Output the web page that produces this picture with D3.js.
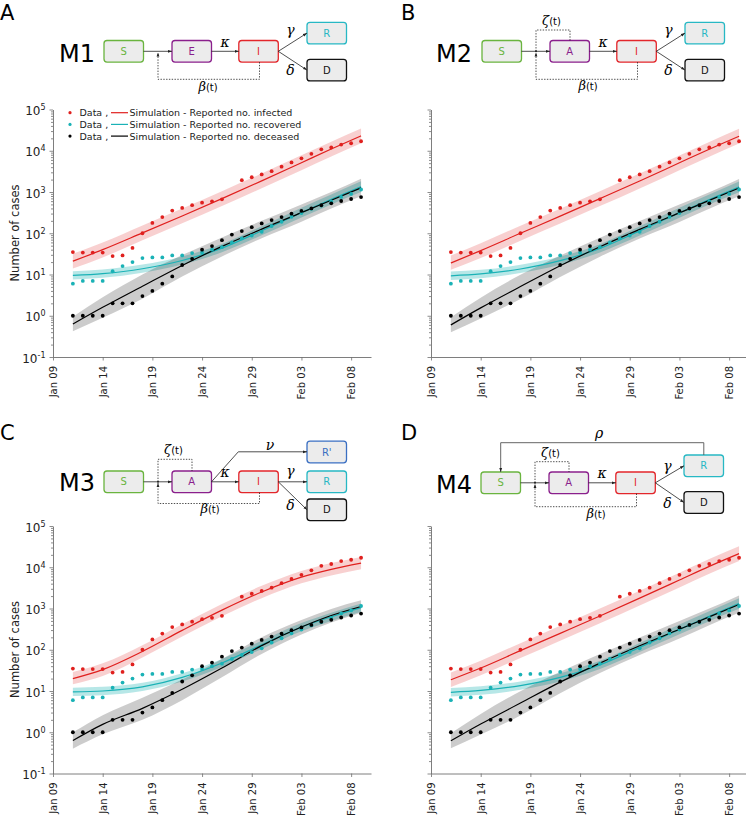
<!DOCTYPE html>
<html>
<head>
<meta charset="utf-8">
<script src="https://cdnjs.cloudflare.com/ajax/libs/d3/7.8.5/d3.min.js"></script>
<style>
  body { margin: 0; background: #fff; }
  text { font-family: "DejaVu Sans", sans-serif; }
  .greek { font-family: "DejaVu Serif", serif; font-style: italic; }
</style>
</head>
<body>
<svg id="fig" width="746" height="817"></svg>
<script>
// reported data, Jan 11 .. Feb 09 (one point per day, null = not shown)
var dataDates = ["2020-01-11","2020-01-12","2020-01-13","2020-01-14","2020-01-15","2020-01-16","2020-01-17","2020-01-18","2020-01-19","2020-01-20",
                 "2020-01-21","2020-01-22","2020-01-23","2020-01-24","2020-01-25","2020-01-26","2020-01-27","2020-01-28","2020-01-29","2020-01-30",
                 "2020-01-31","2020-02-01","2020-02-02","2020-02-03","2020-02-04","2020-02-05","2020-02-06","2020-02-07","2020-02-08","2020-02-09"];
var infectedData  = [35, 34, 34, 34, 28, 29, 44, 100, 178, 247, 355, 412, 480, 550, 595, 665, null, 1930, 2280, 2670, 3200, 4100, 5200, 6550, 8400, 10800, 12000, 14100, 15200, 17000];
var recoveredData = [6, 7, 7, 7, 12, 16, 20, 25, 26, 26, 29, 29, 33, 34, 40, 46, 60, 75, 88, 108, 150, 190, 250, 310, 390, 470, 590, 760, 900, 1150];
var deceasedData  = [1, 1, 1, 1, 2, 2, 2, 3, 4, 6, 9, 17, 24, 40, 49, 68, 93, 113, 140, 173, 209, 247, 299, 347, 400, 477, 531, 605, 676, 755];

// simulation curves (median and band), read at these dates
var simDates = ["2020-01-11","2020-01-14","2020-01-18","2020-01-22","2020-01-26","2020-01-30","2020-02-03","2020-02-06","2020-02-09"];

var m1Inf   = [21, 40, 102, 263, 692, 1860, 5130, 11000, 22900];
var m1InfLo = [14, 26, 68, 174, 457, 1230, 3390, 7240, 15100];
var m1InfHi = [32, 60, 155, 398, 1050, 2820, 7760, 16600, 34700];
var m1Rec   = [9.5, 10.5, 13.8, 21.9, 43.7, 115, 316, 661, 1350];
var m1RecLo = [7.6, 8.3, 11, 17.4, 34.7, 89, 240, 501, 1000];
var m1RecHi = [12, 13.2, 17.4, 27.5, 55, 148, 417, 871, 1820];
var m1Dec   = [0.63, 1.6, 5.2, 16.6, 48, 126, 316, 631, 1260];
var m1DecLo = [0.42, 0.89, 2.6, 8.9, 27.5, 76, 190, 398, 794];
var m1DecHi = [0.95, 2.8, 10, 29.5, 79, 200, 501, 1000, 2090];

var m2Inf   = [19, 38, 100, 260, 690, 1850, 5100, 10900, 22500];
var m2InfLo = [13, 25, 66, 172, 455, 1220, 3370, 7200, 14900];
var m2InfHi = [29, 57, 152, 394, 1045, 2800, 7700, 16400, 34000];
var m2Rec   = [9.3, 10.3, 13.6, 21.6, 43, 114, 314, 655, 1330];
var m2RecLo = [7.4, 8.1, 10.8, 17.2, 34.2, 88, 238, 497, 990];
var m2RecHi = [11.8, 13, 17.2, 27.2, 54, 147, 414, 865, 1800];
var m2Dec   = [0.6, 1.55, 5.1, 16.3, 47, 124, 312, 625, 1250];
var m2DecLo = [0.4, 0.86, 2.55, 8.7, 27, 75, 188, 394, 787];
var m2DecHi = [0.92, 2.75, 9.8, 29, 78, 198, 496, 990, 2070];

var m3Inf   = [20, 33, 91, 295, 912, 2510, 5750, 8910, 12600];
var m3InfLo = [14.5, 23, 65, 209, 646, 1780, 4070, 6310, 8910];
var m3InfHi = [29, 47, 129, 417, 1290, 3550, 8130, 12600, 17800];
var m3Rec   = [9.5, 10, 12.6, 21.4, 47.9, 132, 355, 631, 1050];
var m3RecLo = [7.6, 7.9, 10, 17, 38, 105, 282, 501, 832];
var m3RecHi = [12, 12.6, 15.8, 26.9, 60, 166, 447, 794, 1320];
var m3Dec   = [0.63, 1.55, 3.8, 11, 36, 126, 355, 676, 1120];
var m3DecLo = [0.4, 0.89, 2.0, 6.0, 21.4, 79, 234, 457, 794];
var m3DecHi = [1.0, 2.6, 6.9, 19, 60, 200, 525, 977, 1580];

var m4Inf   = [18.7, 36, 95, 250, 660, 1780, 4900, 10500, 21400];
var m4InfLo = [12.5, 24, 63, 166, 437, 1180, 3240, 6920, 14100];
var m4InfHi = [28, 54, 144, 380, 1000, 2700, 7400, 15900, 32400];
var m4Rec   = [9.3, 10.3, 13.5, 21.4, 43, 114, 312, 650, 1320];
var m4RecLo = [7.4, 8.1, 10.7, 17, 34, 88, 236, 493, 985];
var m4RecHi = [11.8, 13, 17, 27, 54, 146, 410, 858, 1780];
var m4Dec   = [0.62, 1.58, 5.1, 16.4, 47.5, 125, 313, 626, 1250];
var m4DecLo = [0.41, 0.88, 2.55, 8.8, 27.2, 75, 188, 395, 788];
var m4DecHi = [0.94, 2.78, 9.9, 29.2, 78.5, 199, 498, 995, 2080];

var xTickLabels = ["Jan 09", "Jan 14", "Jan 19", "Jan 24", "Jan 29", "Feb 03", "Feb 08"];
var yTickExps = [-1, 0, 1, 2, 3, 4, 5];
var legendLabels = ["Reported no. infected", "Reported no. recovered", "Reported no. deceased"];

var RED = "#e0201e", CYAN = "#1ab2b6", BLACK = "#000000";
var parse = d3.timeParse("%Y-%m-%d");
var svg = d3.select("#fig");

// arrow marker
var defs = svg.append("defs");
defs.append("marker").attr("id", "arr").attr("viewBox", "0 0 10 10")
  .attr("refX", 10).attr("refY", 5).attr("markerWidth", 5).attr("markerHeight", 5)
  .attr("orient", "auto-start-reverse")
  .append("path").attr("d", "M0,1.5 L10,5 L0,8.5 z").attr("fill", "#222");

function series(vals, lo, hi) {
  return simDates.map(function (d, i) { return { date: parse(d), v: vals[i], lo: lo[i], hi: hi[i] }; });
}

function drawPlot(ox, oy, sim, showYLabels, showLegend) {
  var g = svg.append("g").attr("transform", "translate(" + ox + "," + oy + ")");
  var x = d3.scaleTime().domain([parse("2020-01-09"), parse("2020-02-10")]).range([53, 371]);
  var y = d3.scaleLog().domain([0.1, 1e5]).range([357, 109.5]);

  var area = d3.area().x(function (d) { return x(d.date); })
    .y0(function (d) { return y(d.lo); }).y1(function (d) { return y(d.hi); })
    .curve(d3.curveMonotoneX);
  var line = d3.line().x(function (d) { return x(d.date); })
    .y(function (d) { return y(d.v); }).curve(d3.curveMonotoneX);

  var groups = [
    { s: series(sim.inf, sim.infLo, sim.infHi), c: RED, band: "rgba(224,40,40,0.22)" },
    { s: series(sim.rec, sim.recLo, sim.recHi), c: CYAN, band: "rgba(30,180,180,0.32)" },
    { s: series(sim.dec, sim.decLo, sim.decHi), c: BLACK, band: "rgba(0,0,0,0.2)" }
  ];
  groups.forEach(function (o) {
    g.append("path").datum(o.s).attr("d", area).attr("fill", o.band).attr("stroke", "none");
  });
  groups.forEach(function (o) {
    g.append("path").datum(o.s).attr("d", line).attr("fill", "none").attr("stroke", o.c).attr("stroke-width", 1.2);
  });

  var pts = [[infectedData, RED], [recoveredData, CYAN], [deceasedData, BLACK]];
  pts.forEach(function (p) {
    var pd = dataDates.map(function (d, i) { return { date: parse(d), v: p[0][i] }; })
      .filter(function (d) { return d.v != null; });
    g.selectAll(null).data(pd).enter().append("circle")
      .attr("cx", function (d) { return x(d.date); })
      .attr("cy", function (d) { return y(d.v); })
      .attr("r", 1.9).attr("fill", p[1]);
  });

  // axes
  var majors = yTickExps.map(function (e) { return Math.pow(10, e); });
  var minors = [];
  for (var e = -1; e < 5; e++) for (var k = 2; k <= 9; k++) minors.push(k * Math.pow(10, e));

  var ya = g.append("g").attr("transform", "translate(53,0)")
    .call(d3.axisLeft(y).tickValues(majors).tickFormat("").tickSize(3.5).tickSizeOuter(0));
  g.append("g").attr("transform", "translate(53,0)")
    .call(d3.axisLeft(y).tickValues(minors).tickFormat("").tickSize(2).tickSizeOuter(0))
    .select(".domain").remove();

  var xTickDates = xTickLabels.map(function (t) { return d3.timeParse("%b %d %Y")(t + " 2020"); });
  var xa = g.append("g").attr("transform", "translate(0,357)")
    .call(d3.axisBottom(x).tickValues(xTickDates).tickFormat(d3.timeFormat("%b %d")).tickSize(3.5).tickSizeOuter(0));
  xa.selectAll("text").attr("transform", "rotate(-90)")
    .attr("text-anchor", "end").attr("x", -9).attr("y", 0).attr("dy", "0.35em")
    .attr("font-size", 10).attr("font-family", "DejaVu Sans").attr("fill", "#222");

  [ya, xa].forEach(function (a) {
    a.selectAll(".domain").attr("stroke", "#6f6f6f").attr("stroke-width", 0.9);
  });
  g.selectAll(".tick line").attr("stroke", "#6f6f6f").attr("stroke-width", 0.8);

  if (showYLabels) {
    yTickExps.forEach(function (ex) {
      var t = g.append("text").attr("x", 45.5).attr("y", y(Math.pow(10, ex)) + 5.5)
        .attr("text-anchor", "end").attr("font-size", 12).attr("fill", "#222");
      t.append("tspan").text("10");
      t.append("tspan").attr("dy", -5).attr("font-size", 8).text(ex < 0 ? "-" + Math.abs(ex) : ex);
    });
    g.append("text").attr("transform", "translate(18.5,233) rotate(-90)")
      .attr("text-anchor", "middle").attr("font-size", 11.5).attr("fill", "#222").text("Number of cases");
  }

  if (showLegend) {
    var cols = [RED, CYAN, BLACK];
    legendLabels.forEach(function (lab, i) {
      var cy = 112.7 + i * 11.7;
      g.append("circle").attr("cx", 70).attr("cy", cy).attr("r", 1.6).attr("fill", cols[i]);
      g.append("text").attr("x", 79.5).attr("y", cy + 3.4).attr("font-size", 9.5).attr("fill", "#222").text("Data ,");
      g.append("line").attr("x1", 111).attr("x2", 128).attr("y1", cy).attr("y2", cy)
        .attr("stroke", cols[i]).attr("stroke-width", 1.2);
      g.append("text").attr("x", 129.5).attr("y", cy + 3.4).attr("font-size", 9.5).attr("fill", "#222")
        .text("Simulation - " + lab);
    });
  }
}

// ---------- compartment diagrams ----------
var BW = 39.5, BH = 21.6;
function box(g, x, y, label, color) {
  g.append("rect").attr("x", x).attr("y", y).attr("width", BW).attr("height", BH).attr("rx", 3)
    .attr("fill", "#ececec").attr("stroke", color).attr("stroke-width", 1.3);
  g.append("text").attr("x", x + BW / 2).attr("y", y + BH / 2 + 3.6).attr("text-anchor", "middle")
    .attr("font-size", 10).attr("fill", color).text(label);
}
function arrow(g, d, dotted) {
  var p = g.append("path").attr("d", d).attr("fill", "none").attr("stroke", "#222")
    .attr("stroke-width", 0.8).attr("marker-end", "url(#arr)");
  if (dotted) p.attr("stroke-dasharray", "1.4,1.4");
  return p;
}
function dotted(g, d) {
  g.append("path").attr("d", d).attr("fill", "none").attr("stroke", "#222")
    .attr("stroke-width", 0.8).attr("stroke-dasharray", "1.4,1.4");
}
function greek(g, x, y, sym, suffix, size) {
  var t = g.append("text").attr("x", x).attr("y", y).attr("text-anchor", "middle");
  t.append("tspan").attr("class", "greek").attr("font-size", size || 14).text(sym);
  if (suffix) t.append("tspan").attr("font-size", 10).text(suffix);
}

function diagram(ox, oy, opt) {
  var g = svg.append("g").attr("transform", "translate(" + ox + "," + oy + ")");
  var my = 51.3;
  g.append("text").attr("x", opt.mx).attr("y", 62 + opt.mdy).attr("font-size", 24).attr("fill", "#000").text(opt.mLabel);
  box(g, 104, 40.5, "S", "#6ab43f");
  box(g, 172, 40.5, opt.mid, "#8a1f8c");
  box(g, 238.8, 40.5, "I", "#e3262b");
  arrow(g, "M143.5," + my + " H172");
  arrow(g, "M211.5," + my + " H238.8");
  greek(g, 225, my - 4.5, "κ");
  box(g, 307, opt.rY, "R", "#27b8c4");
  box(g, 307, opt.dY, "D", "#111");
  arrow(g, "M278.3," + my + " L307," + (opt.rY + BH / 2));
  arrow(g, "M278.3," + my + " L307," + (opt.dY + BH / 2));
  greek(g, 290.5, opt.gammaY, "γ");
  greek(g, 290.5, opt.deltaY, "δ");
  // beta loop
  arrow(g, "M259.5,62.1 V" + opt.betaY + " H158 V" + (my + 1.2), true);
  greek(g, opt.betaX, opt.betaLabY, "β", "(t)", 13);
  if (opt.zeta) {
    dotted(g, "M158," + my + " V" + opt.zetaY + " H192 V40.5");
    greek(g, 173.5, opt.zetaLabY, "ζ", "(t)", 13);
    g.append("circle").attr("cx", 158).attr("cy", my).attr("r", 1).attr("fill", "#222");
  }
  return g;
}

// panel letters
[["A", 0, 20], ["B", 401, 20], ["C", 0, 440], ["D", 401, 440]].forEach(function (p) {
  svg.append("text").attr("x", p[1]).attr("y", p[2]).attr("font-size", 21).attr("fill", "#000").text(p[0]);
});

diagram(0, 0, { mLabel: "M1", mx: 59, mdy: 0, mid: "E", rY: 22.3, dY: 59.3, gammaY: 35, deltaY: 75,
  betaY: 79.3, betaX: 208, betaLabY: 91 });

diagram(378, 0, { mLabel: "M2", mx: 58, mdy: 0, mid: "A", rY: 22.3, dY: 59.3, gammaY: 35, deltaY: 75,
  betaY: 79.3, betaX: 210, betaLabY: 90, zeta: true, zetaY: 30, zetaLabY: 25 });

var gC = diagram(0, 430.5, { mLabel: "M3", mx: 59, mdy: -2, mid: "A", rY: 40.5, dY: 68.5, gammaY: 45, deltaY: 79.5,
  betaY: 73, betaX: 210, betaLabY: 82, zeta: true, zetaY: 28.8, zetaLabY: 23 });
box(gC, 307, 10.7, "R'", "#3a6fc2");
arrow(gC, "M211.5,51.3 L238.3,21.3 H307");
greek(gC, 270, 19.5, "ν");

var gD = diagram(377, 431.5, { mLabel: "M4", mx: 59, mdy: -1, mid: "A", rY: 23.5, dY: 60.2, gammaY: 39, deltaY: 76.5,
  betaY: 75.2, betaX: 219, betaLabY: 86.5, zeta: true, zetaY: 30.2, zetaLabY: 25.5 });
gD.append("path").attr("d", "M326.8,23.5 V11.2 H123.7 V40.5").attr("fill", "none")
  .attr("stroke", "#555").attr("stroke-width", 0.9).attr("marker-end", "url(#arr)");
greek(gD, 222, 6.5, "ρ");

// ---------- plots ----------
drawPlot(0, 0, { inf: m1Inf, infLo: m1InfLo, infHi: m1InfHi, rec: m1Rec, recLo: m1RecLo, recHi: m1RecHi,
  dec: m1Dec, decLo: m1DecLo, decHi: m1DecHi }, true, true);
drawPlot(378, 0, { inf: m2Inf, infLo: m2InfLo, infHi: m2InfHi, rec: m2Rec, recLo: m2RecLo, recHi: m2RecHi,
  dec: m2Dec, decLo: m2DecLo, decHi: m2DecHi }, false, false);
drawPlot(0, 416.5, { inf: m3Inf, infLo: m3InfLo, infHi: m3InfHi, rec: m3Rec, recLo: m3RecLo, recHi: m3RecHi,
  dec: m3Dec, decLo: m3DecLo, decHi: m3DecHi }, true, false);
drawPlot(378, 416.5, { inf: m4Inf, infLo: m4InfLo, infHi: m4InfHi, rec: m4Rec, recLo: m4RecLo, recHi: m4RecHi,
  dec: m4Dec, decLo: m4DecLo, decHi: m4DecHi }, false, false);
</script>
</body>
</html>
